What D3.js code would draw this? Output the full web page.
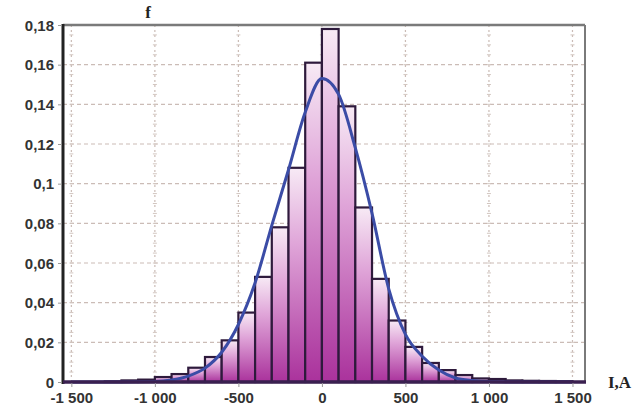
<!DOCTYPE html>
<html>
<head>
<meta charset="utf-8">
<script src="https://cdn.jsdelivr.net/npm/d3@7"></script>
<style>
  body { margin: 0; background: #fff; }
  svg { display: block; }
  .tick-label { font-family: "Liberation Sans", Arial, sans-serif; font-weight: bold; font-size: 15px; fill: #333; }
  .axis-title { font-family: "Liberation Serif", "Times New Roman", serif; font-weight: bold; font-size: 17px; fill: #222; }
</style>
</head>
<body>
<svg id="chart" width="642" height="420"></svg>
<script>
// histogram bins: left edges (width 100) and relative frequency f
const binStarts = [-1500, -1400, -1300, -1200, -1100, -1000, -900, -800, -700, -600,
                   -500, -400, -300, -200, -100, 0, 100, 200, 300, 400,
                   500, 600, 700, 800, 900, 1000, 1100, 1200, 1300, 1400];
const freq = [0, 0, 0.0003, 0.0008, 0.0012, 0.0025, 0.004, 0.0072, 0.0126, 0.021,
              0.035, 0.053, 0.078, 0.108, 0.161, 0.178, 0.139, 0.088, 0.052, 0.031,
              0.0177, 0.0096, 0.006, 0.0035, 0.0018, 0.0015, 0.0008, 0.0006, 0.0005, 0.0004];
const binWidth = 100;

// fitted curve
const curveX = [-1500, -1200, -1000, -900, -800, -700, -600, -500, -400, -300, -200, -100,
                0, 100, 200, 300, 400, 500, 600, 700, 800, 900, 1000, 1200, 1500];
const curveY = [0, 0, 0.0002, 0.001, 0.003, 0.007, 0.015, 0.029, 0.050, 0.079, 0.107, 0.136,
                0.153, 0.145, 0.118, 0.085, 0.047, 0.024, 0.013, 0.006, 0.002, 0.0007, 0.0002, 0, 0];

const xTicks = [-1500, -1000, -500, 0, 500, 1000, 1500];
const xTickLabels = ["-1 500", "-1 000", "-500", "0", "500", "1 000", "1 500"];
const yTicks = [0, 0.02, 0.04, 0.06, 0.08, 0.1, 0.12, 0.14, 0.16, 0.18];
const yTickLabels = ["0", "0,02", "0,04", "0,06", "0,08", "0,1", "0,12", "0,14", "0,16", "0,18"];

const svg = d3.select("#chart");
const plotLeft = 63, plotRight = 585, plotTop = 25, plotBottom = 382;

const x = d3.scaleLinear().domain([-1550, 1575]).range([plotLeft, plotRight]);
const y = d3.scaleLinear().domain([0, 0.18]).range([plotBottom, plotTop]);

// gradient for bars (per bar, top light -> bottom magenta)
const defs = svg.append("defs");
const grad = defs.append("linearGradient")
  .attr("id", "barFill")
  .attr("x1", 0).attr("y1", 0).attr("x2", 0).attr("y2", 1);
grad.append("stop").attr("offset", "0%").attr("stop-color", "#f7eaf5");
grad.append("stop").attr("offset", "35%").attr("stop-color", "#e0a6d9");
grad.append("stop").attr("offset", "100%").attr("stop-color", "#aa329c");

// grid
const grid = svg.append("g");
yTicks.filter(d => d > 0 && d < 0.18).forEach(d => {
  grid.append("line")
    .attr("x1", plotLeft).attr("x2", plotRight)
    .attr("y1", y(d)).attr("y2", y(d))
    .attr("stroke", "#cbbcb6").attr("stroke-width", 1.2)
    .attr("stroke-dasharray", "4,3");
});
xTicks.forEach(d => {
  grid.append("line")
    .attr("x1", x(d)).attr("x2", x(d))
    .attr("y1", plotTop).attr("y2", plotBottom)
    .attr("stroke", "#cbbcb6").attr("stroke-width", 1.2)
    .attr("stroke-dasharray", "2,3");
  // small minor marks along the vertical grid lines
  d3.range(0.005, 0.18, 0.005).forEach(v => {
    grid.append("line")
      .attr("x1", x(d) - 2).attr("x2", x(d) + 2)
      .attr("y1", y(v)).attr("y2", y(v))
      .attr("stroke", "#d2c6c0").attr("stroke-width", 1);
  });
});

// bars
svg.append("g")
  .selectAll("rect")
  .data(binStarts.map((s, i) => ({ start: s, f: freq[i] })).filter(d => d.f > 0))
  .join("rect")
  .attr("x", d => x(d.start))
  .attr("width", d => x(d.start + binWidth) - x(d.start))
  .attr("y", d => y(d.f))
  .attr("height", d => y(0) - y(d.f))
  .attr("fill", "url(#barFill)")
  .attr("stroke", "#2e1a3c")
  .attr("stroke-width", 2.2);

// fitted curve
const line = d3.line()
  .x(d => x(d[0]))
  .y(d => y(d[1]))
  .curve(d3.curveMonotoneX);
svg.append("path")
  .datum(curveX.map((v, i) => [v, curveY[i]]))
  .attr("d", line)
  .attr("fill", "none")
  .attr("stroke", "#3b4ca6")
  .attr("stroke-width", 3);

// frame: top and right grey, left and bottom dark
svg.append("line").attr("x1", plotLeft).attr("x2", plotRight).attr("y1", plotTop).attr("y2", plotTop)
  .attr("stroke", "#7a7a7a").attr("stroke-width", 2.5);
svg.append("line").attr("x1", plotRight).attr("x2", plotRight).attr("y1", plotTop).attr("y2", plotBottom)
  .attr("stroke", "#7a7a7a").attr("stroke-width", 2);
svg.append("line").attr("x1", plotLeft).attr("x2", plotLeft).attr("y1", plotTop - 1).attr("y2", plotBottom + 2)
  .attr("stroke", "#222").attr("stroke-width", 3);
svg.append("line").attr("x1", plotLeft).attr("x2", plotRight + 1).attr("y1", plotBottom).attr("y2", plotBottom)
  .attr("stroke", "#3a2050").attr("stroke-width", 3.5);

// y axis
const yAxis = d3.axisLeft(y)
  .tickValues(yTicks)
  .tickSize(4)
  .tickPadding(4)
  .tickFormat((d, i) => yTickLabels[i]);
const gy = svg.append("g").attr("transform", `translate(${plotLeft - 1},0)`).call(yAxis);
gy.select(".domain").remove();
gy.selectAll(".tick line").attr("stroke", "#999");
gy.selectAll(".tick text").attr("class", "tick-label").attr("dy", "0.35em");

// x axis
const xAxis = d3.axisBottom(x)
  .tickValues(xTicks)
  .tickSize(4)
  .tickPadding(5)
  .tickFormat((d, i) => xTickLabels[i]);
const gx = svg.append("g").attr("transform", `translate(0,${plotBottom + 1})`).call(xAxis);
gx.select(".domain").remove();
gx.selectAll(".tick line").attr("stroke", "#999");
gx.selectAll(".tick text").attr("class", "tick-label");

// axis titles
svg.append("text").attr("class", "axis-title")
  .attr("x", 148).attr("y", 18).attr("text-anchor", "middle").text("f");
svg.append("text").attr("class", "axis-title")
  .attr("x", 608).attr("y", 388).text("I,A");
</script>
</body>
</html>
